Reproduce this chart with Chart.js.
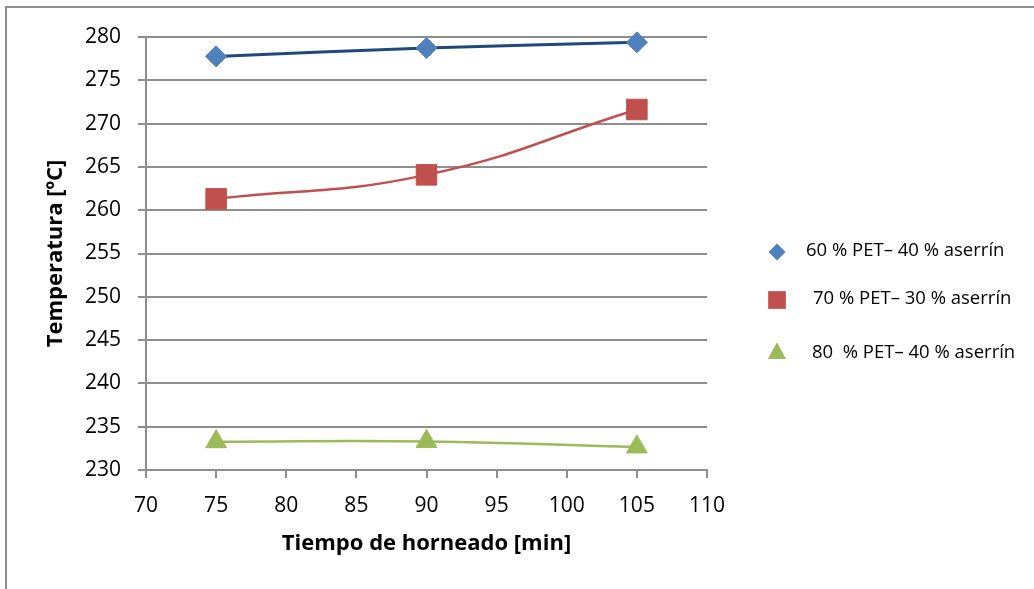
<!DOCTYPE html>
<html lang="es">
<head>
<meta charset="utf-8">
<title>Temperatura vs tiempo de horneado</title>
<script src="https://cdn.jsdelivr.net/npm/chart.js@4.4.1/dist/chart.umd.min.js"></script>
<style>
  html, body { margin: 0; padding: 0; background: #fff; overflow: hidden; }
  #wrap { position: relative; width: 1034px; height: 589px; }
  #frame {
    position: absolute; left: 5px; top: 6px; right: -10px; bottom: -10px;
    border-left: 2px solid #8e8e8e; border-top: 2px solid #8e8e8e;
    pointer-events: none;
  }
  canvas { position: absolute; left: 0; top: 0; }
</style>
</head>
<body>
<div id="wrap">
  <canvas id="tempChart" width="1034" height="589"></canvas>
  <div id="frame"></div>
</div>
<script>
// Datos
const tiempo = [75, 90, 105];
const temp60 = [277.76, 278.73, 279.38];
const temp70 = [261.31, 264.08, 271.63];
const temp80 = [233.27, 233.3, 232.66];
const seriesLabels = [
  "60 % PET\u2013 40 % aserr\u00edn",
  "70 % PET\u2013 30 % aserr\u00edn",
  "80  % PET\u2013 40 % aserr\u00edn"
];
const xTitle = "Tiempo de horneado [min]";
const yTitle = "Temperatura [\u00baC]";

const FONT = "'Open Sans', Lato, sans-serif";
const GRID = "#8e8e8e";

function toPoints(values) {
  return tiempo.map((t, i) => ({ x: t, y: values[i] }));
}

/**
 * Leyenda a la derecha, dibujada a mano para colocar cada entrada como en el original.
 */
const sideLegend = {
  id: "sideLegend",
  afterDraw(chart) {
    const ctx = chart.ctx;
    const items = [
      { mx: 777, my: 252, tx: 806, ty: 251, r: 8.5 },
      { mx: 777, my: 300, tx: 813, ty: 299, r: 12.5 },
      { mx: 777, my: 351, tx: 812, ty: 353, r: 10.5 }
    ];
    ctx.save();
    ctx.font = "18.5px " + FONT;
    ctx.textBaseline = "middle";
    ctx.textAlign = "left";
    chart.data.datasets.forEach((ds, i) => {
      const it = items[i];
      ctx.fillStyle = ds.pointBackgroundColor;
      ctx.beginPath();
      if (ds.pointStyle === "rectRot") {
        ctx.moveTo(it.mx - it.r, it.my);
        ctx.lineTo(it.mx, it.my - it.r);
        ctx.lineTo(it.mx + it.r, it.my);
        ctx.lineTo(it.mx, it.my + it.r);
      } else if (ds.pointStyle === "rect") {
        const s = it.r * Math.SQRT1_2;
        ctx.rect(it.mx - s, it.my - s, 2 * s, 2 * s);
      } else {
        const h = it.r * 1.5, w = it.r * Math.sqrt(3) / 2;
        ctx.moveTo(it.mx, it.my - h / 2 - 1);
        ctx.lineTo(it.mx + w, it.my + h / 2);
        ctx.lineTo(it.mx - w, it.my + h / 2);
      }
      ctx.closePath();
      ctx.fill();
      ctx.fillStyle = "#000";
      ctx.fillText(ds.label, it.tx, it.ty);
    });
    ctx.restore();
  }
};

new Chart(document.getElementById("tempChart"), {
  type: "line",
  data: {
    datasets: [
      {
        label: seriesLabels[0],
        data: toPoints(temp60),
        borderColor: "#1F497D",
        borderWidth: 3,
        pointStyle: "rectRot",
        pointRadius: 10.5,
        pointBackgroundColor: "#4F81BD",
        pointBorderColor: "#4F81BD",
        pointBorderWidth: 1,
        tension: 0.45,
        clip: false
      },
      {
        label: seriesLabels[1],
        data: toPoints(temp70),
        borderColor: "#C0504D",
        borderWidth: 2.5,
        pointStyle: "rect",
        pointRadius: 14.5,
        pointBackgroundColor: "#C0504D",
        pointBorderColor: "#C0504D",
        pointBorderWidth: 1,
        tension: 0.45,
        clip: false
      },
      {
        label: seriesLabels[2],
        data: toPoints(temp80),
        borderColor: "#9BBB59",
        borderWidth: 2.5,
        pointStyle: "triangle",
        pointRadius: 12,
        pointBackgroundColor: "#9BBB59",
        pointBorderColor: "#9BBB59",
        pointBorderWidth: 1,
        tension: 0.45,
        clip: false
      }
    ]
  },
  options: {
    responsive: false,
    animation: false,
    layout: { padding: { top: 37, right: 327, bottom: 0, left: 0 } },
    plugins: {
      legend: { display: false },
      tooltip: { enabled: false }
    },
    scales: {
      x: {
        type: "linear",
        min: 70,
        max: 110,
        afterFit: (scale) => { scale.height = 119; },
        ticks: {
          stepSize: 5,
          padding: 15,
          color: "#000",
          maxRotation: 0,
          font: { family: FONT, size: 21 }
        },
        grid: {
          drawOnChartArea: false,
          drawTicks: true,
          tickLength: 8,
          color: GRID,
          lineWidth: 2
        },
        border: { display: true, color: GRID, width: 2 },
        title: {
          display: true,
          text: xTitle,
          color: "#000",
          padding: { top: 0, bottom: 32 },
          font: { family: FONT, size: 22, weight: "bold", lineHeight: 1.2 }
        }
      },
      y: {
        min: 230,
        max: 280,
        afterFit: (scale) => { scale.width = 146; },
        ticks: {
          stepSize: 5,
          padding: 17,
          color: "#000",
          font: { family: FONT, size: 21 }
        },
        grid: {
          color: GRID,
          lineWidth: 2,
          tickLength: 8
        },
        border: { display: true, color: GRID, width: 2 },
        title: {
          display: true,
          text: yTitle,
          color: "#000",
          padding: { top: 43, bottom: 0 },
          font: { family: FONT, size: 22, weight: "bold", lineHeight: 1.2 }
        }
      }
    }
  },
  plugins: [sideLegend]
});
</script>
</body>
</html>
